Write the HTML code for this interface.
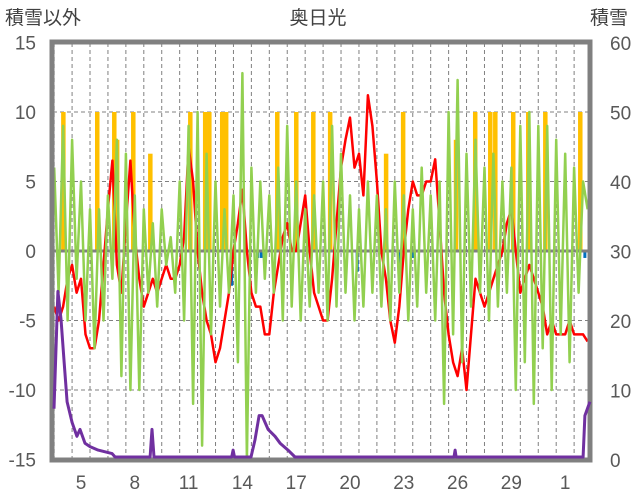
<!DOCTYPE html>
<html><head><meta charset="utf-8">
<style>
html,body{margin:0;padding:0;background:#fff;}
svg{display:block;font-family:"Liberation Sans","Noto Sans CJK JP",sans-serif;}
</style></head>
<body>
<svg id="chart" width="636" height="501" viewBox="0 0 636 501">
<g id="grid"></g>
<g id="bars"></g>
<g id="lines"></g>
<g id="axes"></g>
<g id="top"></g>
<text x="5" y="24" font-size="19" fill="#404040">積雪以外</text>
<text x="318" y="24" font-size="19" fill="#404040" text-anchor="middle">奥日光</text>
<text x="590" y="24" font-size="19" fill="#404040">積雪</text>
</svg>
<script>
const xTickDays = [5,8,11,14,17,20,23,26,29,32];
const xTickLabels = ["5","8","11","14","17","20","23","26","29","1"];
const leftTicks = [15,10,5,0,-5,-10,-15];
const rightTicks = [60,50,40,30,20,10,0];
const lineStart = 3.5, lineStep = 0.25;
const redTemp = [-4,-5,
 -4,-2,-1,-3, -2,-6,-7,-7, -5,-1,3,6.5, -1,-3,2,6.5, 1,-2,-4,-3,
 -2,-3,-2,-1, -2,-2,-1,1, 7.5,5,0,-3, -5,-6,-8,-7, -5,-3,0,2,
 4.4,0,-3,-4, -4,-6,-6,-3, -1,1,2,0, 0,2,4,0, -3,-4,-5,-5,
 -2,2,6,8, 9.6,6,7,4, 11.2,9,5,0, -2,-5,-6.6,-4, 0,3,5,4,
 4,5,5,6.6, 2,-3,-6,-8, -9,-7,-10,-6, -2,-3,-4,-3, -2,-1,0,2,
 3,0,-3,-2, -1,-2,-3,-4, -6,-5,-6,-6, -6,-5,-6,-6, -6,-6.5];
const greenVals = [6,-3,
 9,-5,8,-2, 5,-5,3,-7, 3,-5,4,-2, 8,-9,7,-10, 4,-10,3,-3,
 2,-4,3,-1, 1,-3,5,-5, 9,-11,10,-14, 7,-6,5,-4, 3,-3,4,-8,
 12.8,-15,6,-3, 5,-2,4,-3, 6,-5,9,-4, 5,-5,3,-4, 4,-3,5,-5,
 9,-4,7,-3, 4,-5,3,-4, 5,-3,4,-4, 3,-5,5,-3, 4,-5,3,-4,
 6,-3,4,-5, 5,-11,10,-6, 12.3,-8,7,-4, 8,-3,6,-5, 7,-4,5,-3,
 6,-10,9,-8, 10,-11,9,-7, 9,-10,8,-6, 7,-8,6,-3, 5,3];
const orangeDays = [4.0,5.89,6.84,7.0,7.9,8.85,11.08,11.91,12.14,12.86,13.08,15.93,16.99,17.94,18.88,22.0,22.95,25.9,26.97,27.81,28.09,29.09,29.93,30.88,32.83];
const orangeVals = [10,10,10,8,10,7,10,10,10,10,10,10,10,10,10,7,10,8,10,10,10,10,10,10,10];
const blueDays = [13.4,14.85,15.05,20.4,22.8,23.5,33.1];
const blueVals = [-2.5,-0.5,-0.5,-1.5,-1,-0.5,-0.5];
const snowDays = [3.49,3.71,3.88,4.05,4.22,4.5,4.77,4.94,5.22,5.5,5.95,6.73,6.9,8.85,8.96,9.07,13.4,13.48,13.56,14.48,14.7,14.93,15.1,15.43,15.82,16.1,16.54,16.93,25.8,25.86,25.92,33.0,33.1,33.38];
const snowVals = [7,24,20,14,8,5,3,4,2,1.5,1,0.5,0,0,4,0,0,1,0,0,2.5,6,6,4,3,2,1,0,0,1,0,0,6,8];

const L=53, R=590, T=43, B=460;
const x = d => 52 + (d - 3.38) * 17.93;
const yL = v => 251 - v * 13.9;
const yR = v => 457 - v * 6.9;
const NS='http://www.w3.org/2000/svg';
function mk(tag, attrs, parent){const e=document.createElementNS(NS,tag);for(const k in attrs)e.setAttribute(k,attrs[k]);parent.appendChild(e);return e;}
const grid=document.getElementById('grid'), bars=document.getElementById('bars'), lines=document.getElementById('lines'), axes=document.getElementById('axes'), topG=document.getElementById('top');
for(let d=3; d<=32; d++){
  const e=mk('line',{x1:x(d+0.5),x2:x(d+0.5),y1:T,y2:B,stroke:'#808080','stroke-width':1,'stroke-dasharray':'4,3'},grid);
  
  
}
leftTicks.forEach(v=>{
  if(v===15||v===-15||v===0) return;
  const e=mk('line',{x1:L,x2:R,y1:yL(v),y2:yL(v),stroke:'#808080','stroke-width':1,'stroke-dasharray':'4,3'},grid);
  
  
});
orangeDays.forEach((d,i)=>{
  const e=mk('rect',{x:x(d)-2,y:yL(orangeVals[i]),width:4.5,height:yL(0)-yL(orangeVals[i]),fill:'#ffc000'},bars);
  
  
});
blueDays.forEach((d,i)=>{
  const e=mk('rect',{x:x(d)-1.5,y:yL(0),width:3,height:yL(blueVals[i])-yL(0),fill:'#0070c0'},bars);
  
  
});
const z=mk('line',{x1:L,x2:R,y1:yL(0),y2:yL(0),stroke:'#808080','stroke-width':3},bars);


function poly(pts,color,w,name,parent){
  const e=mk('polyline',{points:pts.map(p=>p[0].toFixed(1)+','+p[1].toFixed(1)).join(' '),fill:'none',stroke:color,'stroke-width':w,'stroke-linejoin':'round'},parent);
  
  
}
poly(redTemp.map((v,i)=>[x(lineStart+i*lineStep),yL(v)]),'#ff0000',2.5,'red-series',lines);
poly(greenVals.map((v,i)=>[x(lineStart+i*lineStep),yL(v)]),'#92d050',2.5,'green-series',lines);
const f=mk('rect',{x:L-1,y:T-1,width:R-L+1,height:B-T+1,fill:'none',stroke:'#808080','stroke-width':5},axes);


poly(snowDays.map((d,i)=>[x(d),yR(snowVals[i])]),'#7030a0',3,'snow-depth-series',topG);
leftTicks.forEach(v=>{
  const t=mk('text',{x:36,y:yL(v)+7,'font-size':19,fill:'#595959','text-anchor':'end'},axes);
  t.textContent=v;
  
  
});
rightTicks.forEach(v=>{
  const t=mk('text',{x:610,y:460-v*6.95+7,'font-size':19,fill:'#595959'},axes);
  t.textContent=v;
  
  
});
xTickDays.forEach((d,i)=>{
  const t=mk('text',{x:x(d),y:489,'font-size':19,fill:'#595959','text-anchor':'middle'},axes);
  t.textContent=xTickLabels[i];
  
  
});
</script>
</body></html>
